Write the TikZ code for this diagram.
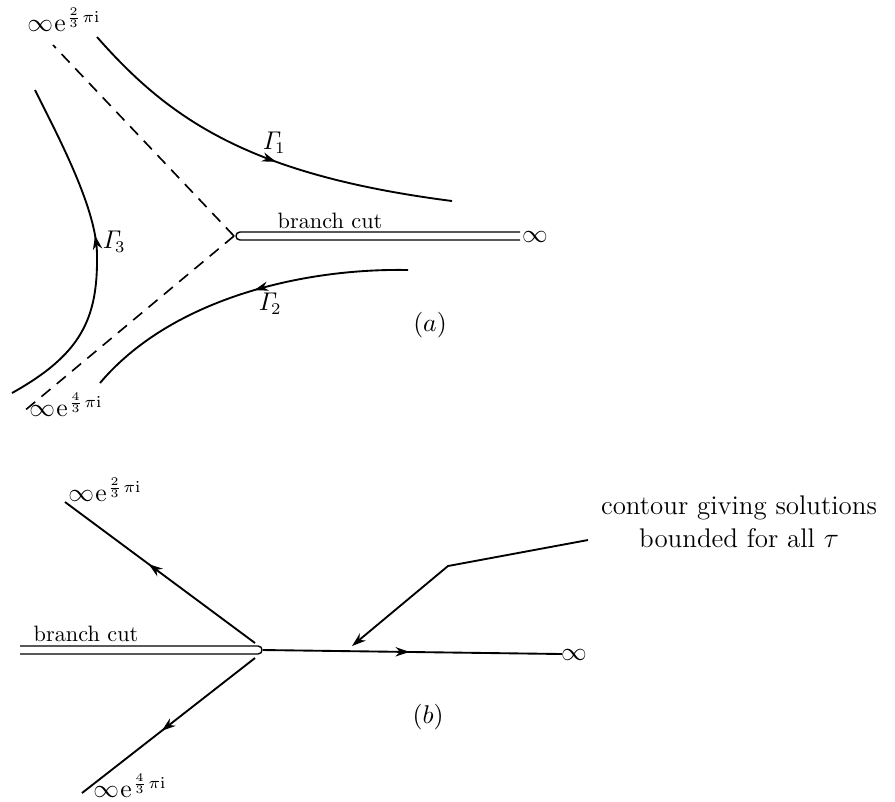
\documentclass[tikz,border=0pt]{standalone}
\usepackage{amsmath,amssymb}
\usepackage{tikz}
\usetikzlibrary{arrows.meta,decorations.markings}

\newcommand{\infexp}[1]{$\infty\mkern1mu\mathrm{e}^{\mkern1mu\frac{#1}{3}\mkern2mu\pi\mathrm{i}}$}

\tikzset{
  contour/.style={line width=0.8pt},
  midarrow/.style={postaction={decorate},
    decoration={markings,mark=at position #1 with {\arrow{Stealth[length=6pt,width=4pt]}}}},
  asym/.style={line width=0.7pt, dash pattern=on 5pt off 3.5pt},
  cutline/.style={line width=0.6pt},
  lbl/.style={inner sep=0pt, font=\fontsize{9.5}{11}\selectfont},
  biglbl/.style={inner sep=0pt, font=\fontsize{10.5}{12}\selectfont},
  note/.style={inner sep=0pt, align=center, font=\fontsize{11.5}{14}\selectfont},
  pointer/.style={line width=0.8pt, -{Stealth[length=6pt,width=4pt]}}
}

\begin{document}
\begin{tikzpicture}[x=0.015cm, y=-0.015cm]
  \useasboundingbox (0,0) rectangle (895,801);

  % =================== (a) three contours ===================
  \coordinate (bpa) at (234,236);
  \coordinate (uppa) at (53,45);
  \coordinate (lowa) at (23,412);

  % asymptotes
  \draw[asym] (bpa) -- (uppa);
  \draw[asym] (bpa) -- (lowa);

  % branch cut, open at the right
  \draw[cutline] (520,232) -- (240,232)
    .. controls (234.7,232) and (234.7,240) .. (240,240) -- (520,240);
  \node[lbl] (cuta) at (330,221) {branch cut};
  \node[biglbl] (infa) at (535,237) {$\infty$};

  % Gamma_1
  \draw[contour, midarrow=0.55]
    (97,37) .. controls (170,120) and (250,175) .. (452,201);
  \node[biglbl] (g1) at (274,143) {$\mathit{\Gamma}_{\!1}$};

  % Gamma_2
  \draw[contour, midarrow=0.46]
    (408,270) .. controls (300,268) and (170,300) .. (100,383);
  \node[biglbl] (g2) at (270,304) {$\mathit{\Gamma}_{\!2}$};

  % Gamma_3, run from the bottom up
  \draw[contour, midarrow=0.55]
    (12,393) .. controls (80,355) and (98,320) .. (97,255)
    .. controls (97,210) and (60,140) .. (35,90);
  \node[biglbl] (g3) at (114,242) {$\mathit{\Gamma}_{\!3}$};

  \node[biglbl] (eupa) at (64,20) {\infexp{2}};
  \node[biglbl] (elowa) at (66,405) {\infexp{4}};
  \node[biglbl] (taga) at (430,325) {$(a)$};

  % =================== (b) contour bounded for all tau ===================
  \coordinate (bpb) at (263,650);
  \coordinate (uppb) at (65,502);
  \coordinate (lowb) at (82,793);
  \coordinate (endb) at (562,654);

  % branch cut, open at the left
  \draw[cutline] (20,646) -- (258,646)
    .. controls (263.3,646) and (263.3,654) .. (258,654) -- (20,654);
  \node[lbl] (cutb) at (86,634) {branch cut};

  \draw[contour, midarrow=0.49] (bpb) -- (endb);
  \draw[contour, midarrow=0.56] (255,643) -- (uppb);
  \draw[contour, midarrow=0.54] (255,658) -- (lowb);

  \node[biglbl] (infb) at (574,655) {$\infty$};
  \node[biglbl] (eupb) at (105,490) {\infexp{2}};
  \node[biglbl] (elowb) at (130,786) {\infexp{4}};
  \node[biglbl] (tagb) at (428,717) {$(b)$};

  % callout
  \node[note] (remark) at (739,522) {contour giving solutions\\bounded for all $\tau$};
  \coordinate (remtail) at (588,540);
  \coordinate (remkink) at (448,566);
  \coordinate (remtip) at (352,646);
  \draw[pointer] (remtail) -- (remkink) -- (remtip);
\end{tikzpicture}
\end{document}
